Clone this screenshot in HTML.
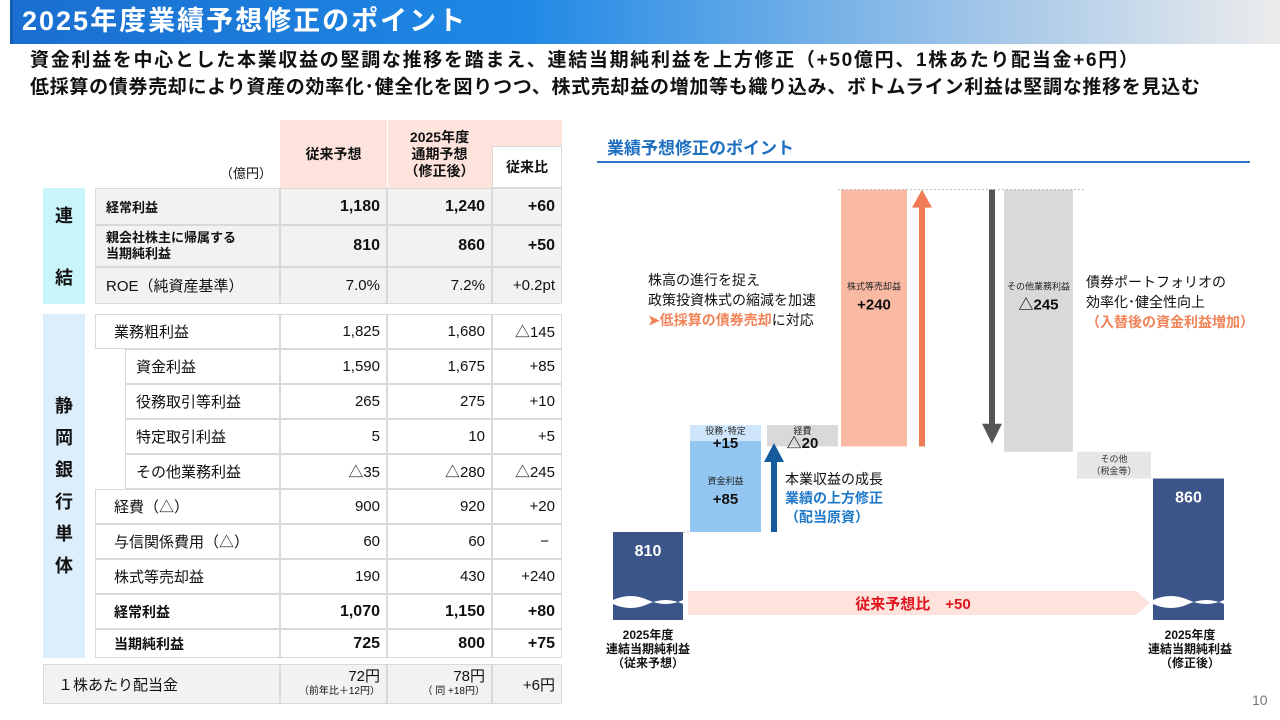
<!DOCTYPE html>
<html><head><meta charset="utf-8">
<style>
*{margin:0;padding:0;box-sizing:border-box}
body{width:1280px;height:720px;background:#fff;position:relative;overflow:hidden;font-family:"Liberation Sans","Noto Sans CJK JP",sans-serif;color:#111}
.a{position:absolute}
.c{position:absolute;border:1px solid #d9d9d9;display:flex;align-items:center;font-size:15px;background:#fff}
.r{justify-content:flex-end;padding-right:6px}
.b{font-weight:bold;font-size:16px}
.lab{padding-left:10px}
.g{background:#f2f2f2}
</style></head><body>
<div class="a" style="left:10px;top:0;width:1270px;height:44px;background:linear-gradient(90deg,#1a6fd0 0%,#1e88e5 40%,#9cc3e8 75%,#ececec 100%);border-left:3px solid #1560b5"></div>
<div class="a" style="left:22px;top:3px;color:#fff;font-size:27px;letter-spacing:2px;font-weight:bold;line-height:36px">2025年度業績予想修正のポイント</div>
<div class="a" style="left:30px;top:49px;font-size:19px;letter-spacing:1.7px;font-weight:bold;line-height:24px">資金利益を中心とした本業収益の堅調な推移を踏まえ、連結当期純利益を上方修正（+50億円、1株あたり配当金+6円）</div>
<div class="a" style="left:30px;top:76px;font-size:19px;letter-spacing:0.7px;font-weight:bold;line-height:24px">低採算の債券売却により資産の効率化･健全化を図りつつ、株式売却益の増加等も織り込み、ボトムライン利益は堅調な推移を見込む</div>

<div class="a" style="left:220px;top:163px;font-size:13px">（億円）</div>
<div class="c b" style="left:280px;top:120px;width:107px;height:68px;background:#fde3dc;border-color:#fde3dc;justify-content:center;font-size:14px">従来予想</div>
<div class="c b" style="left:387px;top:120px;width:105px;height:68px;background:#fde3dc;border-color:#fde3dc;justify-content:center;text-align:center;font-size:14px;line-height:17px;border-left:1px solid #fff">2025年度<br>通期予想<br>（修正後）</div>
<div class="c" style="left:492px;top:120px;width:70px;height:26px;background:#fde3dc;border-color:#fde3dc"></div>
<div class="c b" style="left:492px;top:146px;width:70px;height:42px;justify-content:center;font-size:14px">従来比</div>

<div class="c b" style="left:43px;top:188px;width:42px;height:116px;background:#c9f4fa;border:none;flex-direction:column;justify-content:space-between;padding:14px 0;font-size:18px">連<span>結</span></div>
<div class="c g b lab" style="left:95px;top:188px;width:185px;height:37px;font-size:13px">経常利益</div>
<div class="c g b r" style="left:280px;top:188px;width:107px;height:37px">1,180</div>
<div class="c g b r" style="left:387px;top:188px;width:105px;height:37px">1,240</div>
<div class="c g b r" style="left:492px;top:188px;width:70px;height:37px">+60</div>
<div class="c g b lab" style="left:95px;top:225px;width:185px;height:42px;font-size:13px;line-height:16px">親会社株主に帰属する<br>当期純利益</div>
<div class="c g b r" style="left:280px;top:225px;width:107px;height:42px">810</div>
<div class="c g b r" style="left:387px;top:225px;width:105px;height:42px">860</div>
<div class="c g b r" style="left:492px;top:225px;width:70px;height:42px">+50</div>
<div class="c g lab" style="left:95px;top:267px;width:185px;height:37px">ROE（純資産基準）</div>
<div class="c g r" style="left:280px;top:267px;width:107px;height:37px">7.0%</div>
<div class="c g r" style="left:387px;top:267px;width:105px;height:37px">7.2%</div>
<div class="c g r" style="left:492px;top:267px;width:70px;height:37px">+0.2pt</div>

<div class="c b" style="left:43px;top:314px;width:42px;height:344px;background:#dcedfb;border:none;flex-direction:column;justify-content:center;font-size:18px;line-height:32px;text-align:center">静<br>岡<br>銀<br>行<br>単<br>体</div>

<div class="c lab" style="left:95px;top:314px;width:185px;height:35px;padding-left:18px">業務粗利益</div>
<div class="c r" style="left:280px;top:314px;width:107px;height:35px">1,825</div>
<div class="c r" style="left:387px;top:314px;width:105px;height:35px">1,680</div>
<div class="c r" style="left:492px;top:314px;width:70px;height:35px">△145</div>

<div class="c lab" style="left:125px;top:349px;width:155px;height:35px">資金利益</div>
<div class="c r" style="left:280px;top:349px;width:107px;height:35px">1,590</div>
<div class="c r" style="left:387px;top:349px;width:105px;height:35px">1,675</div>
<div class="c r" style="left:492px;top:349px;width:70px;height:35px">+85</div>

<div class="c lab" style="left:125px;top:384px;width:155px;height:35px">役務取引等利益</div>
<div class="c r" style="left:280px;top:384px;width:107px;height:35px">265</div>
<div class="c r" style="left:387px;top:384px;width:105px;height:35px">275</div>
<div class="c r" style="left:492px;top:384px;width:70px;height:35px">+10</div>

<div class="c lab" style="left:125px;top:419px;width:155px;height:35px">特定取引利益</div>
<div class="c r" style="left:280px;top:419px;width:107px;height:35px">5</div>
<div class="c r" style="left:387px;top:419px;width:105px;height:35px">10</div>
<div class="c r" style="left:492px;top:419px;width:70px;height:35px">+5</div>

<div class="c lab" style="left:125px;top:454px;width:155px;height:35px">その他業務利益</div>
<div class="c r" style="left:280px;top:454px;width:107px;height:35px">△35</div>
<div class="c r" style="left:387px;top:454px;width:105px;height:35px">△280</div>
<div class="c r" style="left:492px;top:454px;width:70px;height:35px">△245</div>

<div class="c lab" style="left:95px;top:489px;width:185px;height:35px;padding-left:18px">経費（△）</div>
<div class="c r" style="left:280px;top:489px;width:107px;height:35px">900</div>
<div class="c r" style="left:387px;top:489px;width:105px;height:35px">920</div>
<div class="c r" style="left:492px;top:489px;width:70px;height:35px">+20</div>

<div class="c lab" style="left:95px;top:524px;width:185px;height:35px;padding-left:18px">与信関係費用（△）</div>
<div class="c r" style="left:280px;top:524px;width:107px;height:35px">60</div>
<div class="c r" style="left:387px;top:524px;width:105px;height:35px">60</div>
<div class="c r" style="left:492px;top:524px;width:70px;height:35px;padding-right:12px">−</div>

<div class="c lab" style="left:95px;top:559px;width:185px;height:35px;padding-left:18px">株式等売却益</div>
<div class="c r" style="left:280px;top:559px;width:107px;height:35px">190</div>
<div class="c r" style="left:387px;top:559px;width:105px;height:35px">430</div>
<div class="c r" style="left:492px;top:559px;width:70px;height:35px">+240</div>

<div class="c b lab" style="left:95px;top:594px;width:185px;height:35px;padding-left:18px;font-size:14px">経常利益</div>
<div class="c b r" style="left:280px;top:594px;width:107px;height:35px">1,070</div>
<div class="c b r" style="left:387px;top:594px;width:105px;height:35px">1,150</div>
<div class="c b r" style="left:492px;top:594px;width:70px;height:35px">+80</div>

<div class="c b lab" style="left:95px;top:629px;width:185px;height:29px;padding-left:18px;font-size:14px">当期純利益</div>
<div class="c b r" style="left:280px;top:629px;width:107px;height:29px">725</div>
<div class="c b r" style="left:387px;top:629px;width:105px;height:29px">800</div>
<div class="c b r" style="left:492px;top:629px;width:70px;height:29px">+75</div>

<div class="c g lab" style="left:43px;top:664px;width:237px;height:40px;padding-left:14px">１株あたり配当金</div>
<div class="c g r" style="left:280px;top:664px;width:107px;height:40px;flex-direction:column;align-items:flex-end;justify-content:center;line-height:15px">72円<span style="font-size:10px">（前年比＋12円）</span></div>
<div class="c g r" style="left:387px;top:664px;width:105px;height:40px;flex-direction:column;align-items:flex-end;justify-content:center;line-height:15px">78円<span style="font-size:10px">（ 同 +18円）</span></div>
<div class="c g r" style="left:492px;top:664px;width:70px;height:40px">+6円</div>

<div class="a" style="left:607px;top:134px;color:#1f6fc0;font-size:17px;font-weight:bold">業績予想修正のポイント</div>
<div class="a" style="left:597px;top:161px;width:653px;height:2px;background:#2e75c9"></div>

<svg class="a" style="left:0;top:0" width="1280" height="720" id="wf"></svg>

<div class="a" style="left:648px;top:270px;font-size:14px;line-height:20px">株高の進行を捉え<br>政策投資株式の縮減を加速<br><span style="color:#f08358;font-weight:bold">➤低採算の債券売却</span>に対応</div>
<div class="a" style="left:1086px;top:272px;font-size:14px;line-height:20px">債券ポートフォリオの<br>効率化･健全性向上<br><span style="color:#f08358;font-weight:bold">（入替後の資金利益増加）</span></div>
<div class="a" style="left:785px;top:470px;font-size:14px;line-height:19px">本業収益の成長<br><span style="color:#1f78c8;font-weight:bold">業績の上方修正<br>（配当原資）</span></div>
<div class="a" style="left:598px;top:628px;width:100px;text-align:center;font-size:12px;font-weight:bold;line-height:14px">2025年度<br>連結当期純利益<br>（従来予想）</div>
<div class="a" style="left:1140px;top:628px;width:100px;text-align:center;font-size:12px;font-weight:bold;line-height:14px">2025年度<br>連結当期純利益<br>（修正後）</div>
<div class="a" style="left:1252px;top:692px;font-size:14px;color:#777">10</div>

<script>
const stepNames = ["810","資金利益","役務･特定","経費","株式等売却益","その他業務利益","その他","860"];
const stepValues = [810, 85, 15, -20, 240, -245, -25, 860];
const stepLabels = ["810","+85","+15","△20","+240","△245","","860"];
const svg = document.getElementById('wf');
const NS = 'http://www.w3.org/2000/svg';
const base = 810, baseY = 532, k = 1.07, bottomY = 620;
function y(v){ return baseY - (v - base) * k; }
const xs = [[613,683],[690,761],[690,761],[767,838],[841,907],[1004,1073],[1077,1151],[1153,1224]];
const fills = ["#3b548a","#93c6f0","#cfe6fa","#d9d9d9","#f9b9a3","#d9d9d9","#e6e6e6","#3b548a"];
function mk(tag, attrs, name){ const e=document.createElementNS(NS,tag); for(const a in attrs) e.setAttribute(a,attrs[a]);   svg.appendChild(e); return e; }
mk('polygon',{points:"688,591 1136,591 1150,603 1136,615 688,615",fill:"#fde3dc"},'diff-band');
let t=mk('text',{x:913,y:609,'text-anchor':'middle',fill:'#e0141e','font-size':15,'font-weight':'bold'},'diff-label'); t.textContent='従来予想比　+50';
let cum = 0;
const tops=[], bots=[];
stepValues.forEach((v,i)=>{
  let y0,y1;
  if(i===0||i===stepValues.length-1){ y0=y(v); y1=bottomY; cum=v; }
  else { const a=cum, b=cum+v; y0=y(Math.max(a,b)); y1=y(Math.min(a,b)); cum=b; }
  tops.push(y0); bots.push(y1);
  const [x0,x1]=xs[i];
  mk('rect',{x:x0,y:y0,width:x1-x0,height:y1-y0,fill:fills[i]},'bar-'+i);
  const w=(x1-x0), cx=(x0+x1)/2;
  if(i===0||i===stepValues.length-1){
    mk('path',{d:`M${x0} ${600} q${w/4} -8 ${w/2} 0 t${w/2} 0 v4 q${-w/4} -8 ${-w/2} 0 t${-w/2} 0z`,fill:'#fff'},'axis-break-'+i);
    let l=mk('text',{x:cx,y:y0+24,'text-anchor':'middle',fill:'#fff','font-size':16,'font-weight':'bold'},'bar-value-'+i); l.textContent=stepLabels[i];
  } else if(i===6){
    let l=mk('text',{x:cx,y:y0+10,'text-anchor':'middle',fill:'#333','font-size':9},'bar-name-'+i); l.textContent='その他';
    let l2=mk('text',{x:cx,y:y0+22,'text-anchor':'middle',fill:'#333','font-size':9},'bar-name2-'+i); l2.textContent='（税金等）';
  } else {
    const small = (y1-y0)<30;
    let n=mk('text',{x:cx,y:small?y0+9:y0+(i===1?43:i===4||i===5?100:12),'text-anchor':'middle',fill:'#222','font-size':9},'bar-name-'+i); n.textContent=stepNames[i];
    let l=mk('text',{x:cx,y:small?y0+23:y0+(i===1?63:i===4||i===5?120:26),'text-anchor':'middle',fill:'#111','font-size':15,'font-weight':'bold'},'bar-value-'+i); l.textContent=stepLabels[i];
  }
});
mk('line',{x1:838,y1:tops[4],x2:1085,y2:tops[4],stroke:'#bbb','stroke-dasharray':'2,2'},'top-connector');
mk('line',{x1:683,y1:y(810),x2:690,y2:y(810),stroke:'#bbb','stroke-dasharray':'2,2'},'base-connector');
mk('rect',{x:919,y:tops[4]+16,width:6,height:bots[4]-tops[4]-16,fill:'#f07b55'},'arrow-up-shaft');
mk('polygon',{points:`912,${tops[4]+18} 922,${tops[4]} 932,${tops[4]+18}`,fill:'#f07b55'},'arrow-up-head');
const dEnd = bots[5]-8;
mk('rect',{x:989,y:tops[4],width:6,height:dEnd-tops[4]-18,fill:'#555'},'arrow-down-shaft');
mk('polygon',{points:`982,${dEnd-20} 992,${dEnd} 1002,${dEnd-20}`,fill:'#555'},'arrow-down-head');
mk('rect',{x:771,y:458,width:6,height:y(810)-458,fill:'#155b9c'},'arrow-core-shaft');
mk('polygon',{points:`764,462 774,443 784,462`,fill:'#155b9c'},'arrow-core-head');
</script>
</body></html>
